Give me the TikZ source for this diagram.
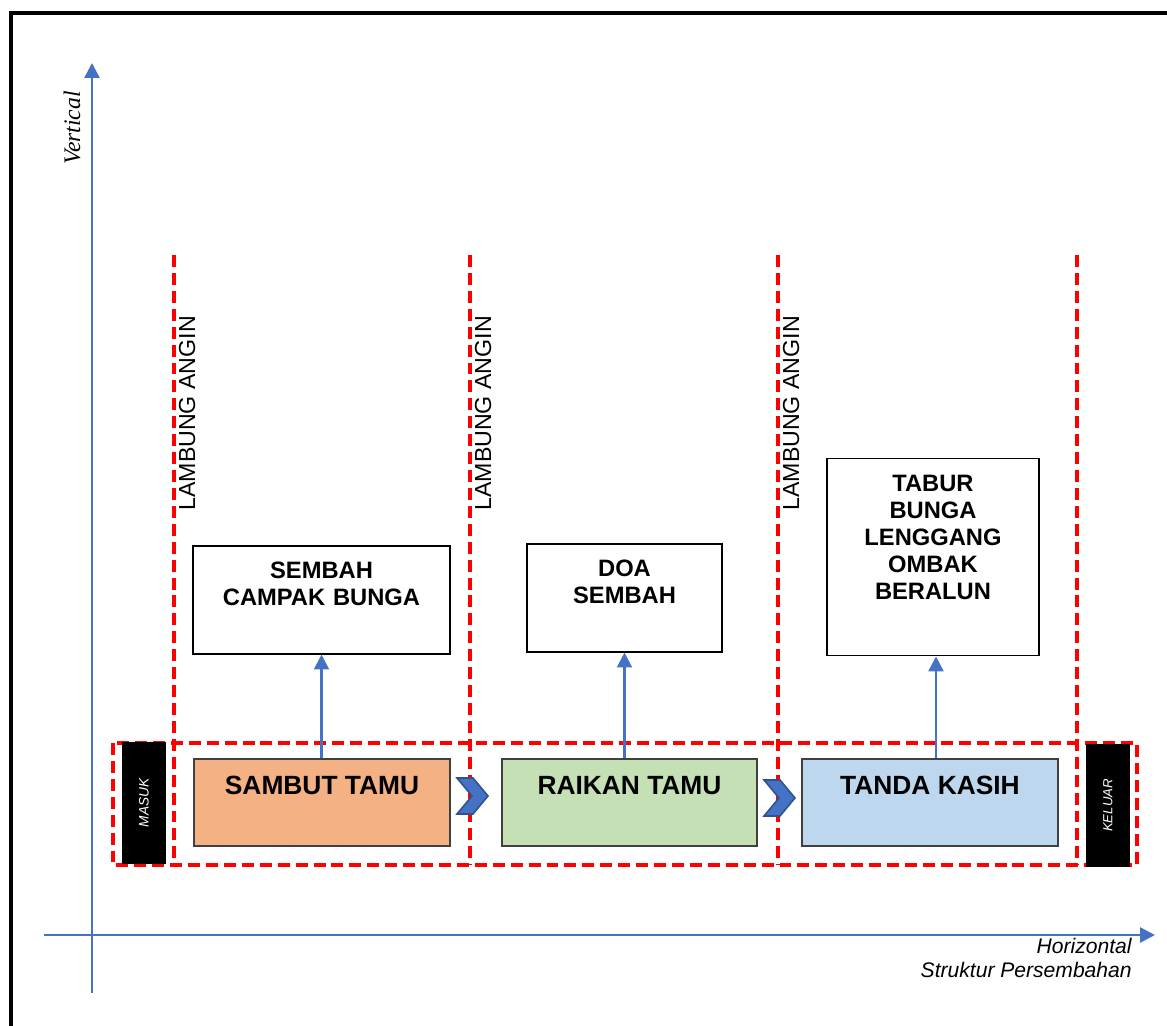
\documentclass[tikz,border=0pt]{standalone}
\usepackage{fontspec}
\setmainfont{Liberation Serif}
\setsansfont{Liberation Sans}
\usetikzlibrary{positioning, calc, arrows.meta}

\definecolor{axisblue}{HTML}{4472C4}
\definecolor{chevedge}{HTML}{2F528F}
\definecolor{dashred}{HTML}{FF0000}
\definecolor{boxedge}{HTML}{404040}
\definecolor{sambutfill}{HTML}{F4B183}
\definecolor{raikanfill}{HTML}{C5E0B4}
\definecolor{tandafill}{HTML}{BDD7EE}

\begin{document}
\begin{tikzpicture}[x=0.02cm, y=-0.02cm,
	axis/.style={-{Triangle[length=8.5pt, width=8.5pt]}, draw=axisblue, line width=1.5pt},
	uparrow/.style={-{Triangle[length=8.5pt, width=8.5pt]}, draw=axisblue, line width=1.3pt},
	zone/.style={draw=dashred, line width=1.9pt, dash pattern=on 6.8pt off 3.4pt},
	stage/.style={draw=boxedge, line width=0.9pt, minimum width=5.12cm, inner sep=0pt, text height=20.1pt, text depth=29.2pt, font=\sffamily\bfseries\fontsize{15}{18}\selectfont},
	act/.style={draw=black, line width=0.9pt, inner sep=0pt, text height=18.4pt, text depth=42.8pt, align=center, font=\sffamily\bfseries\fontsize{13.5}{15.3}\selectfont},
	gate/.style={fill=black, text=white, rotate=90, minimum width=2.44cm, minimum height=0.88cm, inner sep=0pt, font=\sffamily\itshape\fontsize{7.8}{9}\selectfont},
	wind/.style={rotate=90, anchor=north west, inner sep=0pt, font=\sffamily\fontsize{13.2}{15}\selectfont},
	chev/.style={fill=axisblue, draw=chevedge, line width=0.9pt, line join=miter}]

	\useasboundingbox (0,0) rectangle (1167,1026);
	\clip (0,0) rectangle (1167,1026);
	\draw[line width=2pt] (11,13) rectangle (1200,1060);

	\coordinate (vbottom) at (92,993);
	\coordinate (vtop) at (92,63);
	\coordinate (hleft) at (44,935);
	\coordinate (hright) at (1155,935);
	\draw[axis] (vbottom) -- (vtop);
	\draw[axis] (hleft) -- (hright);

	\node[font=\itshape\fontsize{13.5}{16}\selectfont, rotate=90] (vlabel) at (72,128) {Vertical};
	\node[anchor=north east, inner sep=0pt, align=right, font=\sffamily\itshape\fontsize{12}{13.6}\selectfont] (hlabel) at (1132,938) {Horizontal\\Struktur Persembahan};

	\draw[zone] (113,743) rectangle (1137,865);
	\foreach \x in {174, 470, 778, 1077} {
		\draw[zone] (\x,255) -- (\x,865);
	}
	\foreach \x [count=\i] in {178.5, 474.5, 782.5} {
		\node[wind] (wind\i) at (\x,511) {LAMBUNG ANGIN};
	}

	\node[gate] (masuk) at (144,803) {MASUK};
	\node[gate, minimum width=2.46cm, font=\sffamily\itshape\fontsize{7.5}{9}\selectfont] (keluar) at (1108,805.5) {KELUAR};

	\node[stage, fill=sambutfill] (sambut) at (322,802.5) {SAMBUT TAMU};
	\node[stage, fill=raikanfill, minimum width=5.1cm] (raikan) at (629.5,802.5) {RAIKAN TAMU};
	\node[stage, fill=tandafill] (tanda) at (930,802.5) {TANDA KASIH};

	\node[act, text width=5.14cm] (sembah) at (321.5,600) {SEMBAH\\CAMPAK BUNGA};
	\node[act, text width=3.9cm] (doa) at (624.5,598) {DOA\\SEMBAH};
	\node[act, text width=4.24cm, text height=19pt, text depth=93.3pt] (tabur) at (933,557) {TABUR\\BUNGA\\LENGGANG\\OMBAK\\BERALUN};

	\foreach \cx/\cy in {457/778, 764/780} {
		\draw[chev] (\cx,\cy) -- ++(16,0) -- ++(15,18) -- ++(-15,18) -- ++(-16,0) -- ++(15,-18) -- cycle;
	}

	\draw[uparrow] (sembah.south |- sambut.north) -- (sembah.south);
	\draw[uparrow] (doa.south |- raikan.north) -- (doa.south);
	\draw[uparrow] ([xshift=0.06cm]tabur.south |- tanda.north) -- ([xshift=0.06cm]tabur.south);

\end{tikzpicture}
\end{document}
